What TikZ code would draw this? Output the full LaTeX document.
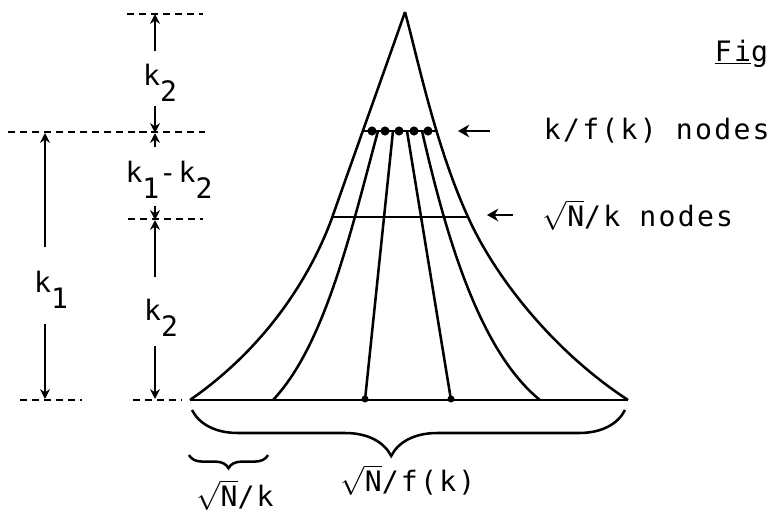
\documentclass[tikz,border=0pt]{standalone}
\usepackage{fontspec}
\newfontfamily\typew[LetterSpace=8]{DejaVu Sans Mono}
\usetikzlibrary{decorations.pathreplacing,arrows.meta}
\newcommand{\lowr}[1]{\raisebox{-1.0ex}{#1}}
\newcommand{\rootN}{$\sqrt{\mbox{N}}$}
\tikzset{
  every node/.style={font=\typew\fontsize{20}{24}\selectfont},
  edge/.style={line width=1.8pt},
  dimline/.style={line width=1.3pt, dash pattern=on 5pt off 3.5pt},
  dimarr/.style={line width=1.3pt, -{Stealth[length=7pt,width=7pt]}},
  ptr/.style={line width=1.7pt, -{Stealth[length=8pt,width=9pt]}},
  dimlab/.style={inner sep=0pt},
  pdot/.style={circle, fill, inner sep=0pt, minimum size=6.5pt},
}
\begin{document}
\begin{tikzpicture}[x=0.025cm,y=-0.025cm]
    \useasboundingbox (0,0) rectangle (771,512);
    % the cone
    \coordinate (apex) at (405,12);
    \coordinate (bl) at (190,400);
    \coordinate (br) at (628,400);
    \draw[edge] (apex) .. controls (390,55) and (347,175) .. (332,218)
        .. controls (310,278) and (265,348) .. (bl);
    \draw[edge] (apex) .. controls (418,60) and (436,147) .. (468,217)
        .. controls (495,277) and (553,351) .. (br);
    \draw[edge] (bl) -- (br);
    \draw[edge] (362,131) -- (437,131);
    \draw[edge] (332,217) -- (468,217);
    \draw[edge] (378,131) .. controls (351,231) and (325,345) .. (273,400);
    \draw[edge] (393,131) -- (365,400);
    \draw[edge] (407,131) -- (451,400);
    \draw[edge] (422,131) .. controls (445,231) and (478,350) .. (540,400);
    \foreach \x [count=\i] in {372,385,399,414,428}
        \node[pdot] (top\i) at (\x,131) {};
    \node[pdot, minimum size=5pt] (bot1) at (365,399) {};
    \node[pdot, minimum size=5pt] (bot2) at (451,399) {};
    % levels
    \draw[dimline] (127,14) -- (203,14);
    \draw[dimline] (8,132) -- (205,132);
    \draw[dimline] (128,219) -- (203,219);
    \draw[dimline] (20,400) -- (82,400);
    \draw[dimline] (133,400) -- (182,400);
    \coordinate (lvl0) at (155,14);
    \coordinate (lvl1) at (155,133);
    \coordinate (lvl2) at (155,220);
    \coordinate (lvl3) at (155,399);
    \coordinate (lvlA1) at (45,133);
    \coordinate (lvlA3) at (45,399);
    % dimensions
    \node[dimlab] (k2u) at (160,83) {k\lowr{2}};
    \node[dimlab] (k12) at (169,180) {k\lowr{1}-k\lowr{2}};
    \node[dimlab] (k2l) at (161,318) {k\lowr{2}};
    \node[dimlab] (k1) at (51,290) {k\lowr{1}};
    \draw[dimarr, shorten <=0.33cm] (k2u.north -| lvl0) -- (lvl0);
    \draw[dimarr, shorten <=0.1cm] (k2u.south -| lvl1) -- (lvl1);
    \draw[dimarr, shorten <=0.35cm] (k12.north -| lvl1) -- (lvl1);
    \draw[dimarr, shorten <=0.18cm] (k12.south -| lvl2) -- (lvl2);
    \draw[dimarr, shorten <=0.55cm] (k2l.north -| lvl2) -- (lvl2);
    \draw[dimarr, shorten <=0.23cm] (k2l.south -| lvl3) -- (lvl3);
    \draw[dimarr, shorten <=0.6cm] (k1.north -| lvlA1) -- (lvlA1);
    \draw[dimarr, shorten <=0.38cm] (k1.south -| lvlA3) -- (lvlA3);
    % right labels
    \node[anchor=west] (fig) at (710,54) {\underline{Fi}g};
    \node[anchor=west] (kf) at (539,131) {k/f(k) nodes};
    \node[anchor=west] (nk) at (538,215) {\rootN/k nodes};
    \coordinate (kfp) at (458,131);
    \coordinate (nkp) at (487,215);
    \draw[ptr, shorten <=1.22cm] (kf.west) -- (kfp);
    \draw[ptr, shorten <=0.63cm] (nk.west) -- (nkp);
    % braces
    \draw[edge, decorate, decoration={brace, mirror, amplitude=1.15cm, aspect=0.46}]
        (192,410) -- (625,410);
    \draw[edge, decorate, decoration={brace, mirror, amplitude=0.33cm}]
        (189,455) -- (268,455);
    \node (nfk) at (408,480) {\rootN/f(k)};
    \node (nkb) at (235,495) {\rootN/k};
\end{tikzpicture}
\end{document}
